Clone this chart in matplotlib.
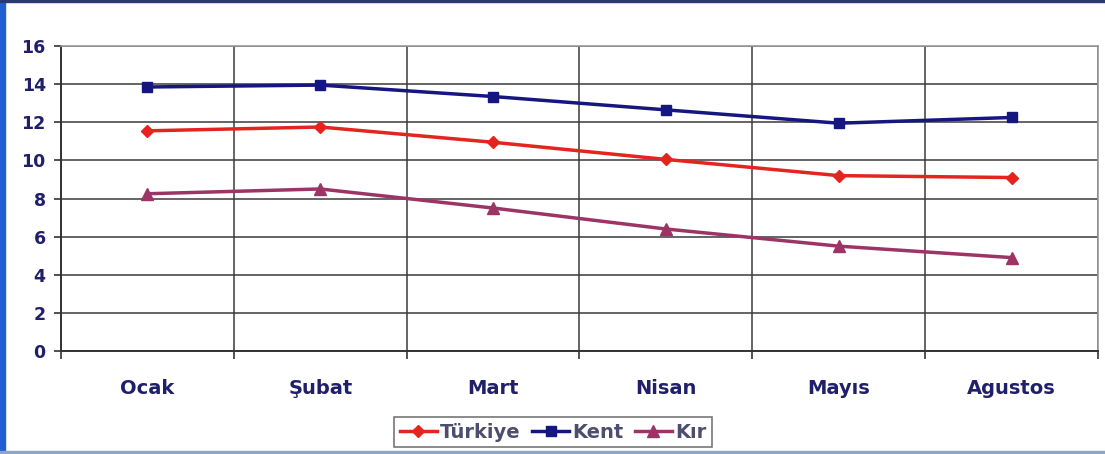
import matplotlib
matplotlib.use("Agg")
import matplotlib.pyplot as plt
from matplotlib.patches import Rectangle

months = ["Ocak", "Şubat", "Mart", "Nisan", "Mayıs", "Agustos"]
turkiye = [11.55, 11.75, 10.95, 10.05, 9.2, 9.1]
kent = [13.85, 13.95, 13.35, 12.65, 11.95, 12.25]
kir = [8.25, 8.5, 7.5, 6.4, 5.5, 4.9]
yticks = [0, 2, 4, 6, 8, 10, 12, 14, 16]

plt.rcParams['font.family'] = ['DejaVu Sans']

fig = plt.figure(figsize=(11.05, 4.54), dpi=100)
fig.patch.set_facecolor('white')
ax = fig.add_axes([61/1105, 1-351/454, (1098-61)/1105, (351-46)/454])

x = list(range(len(months)))
ax.plot(x, turkiye, color='#e3241f', lw=2.5, marker='D', ms=6, label='Türkiye', zorder=4)
ax.plot(x, kent, color='#161680', lw=2.5, marker='s', ms=7, label='Kent', zorder=4)
ax.plot(x, kir, color='#9c3466', lw=2.5, marker='^', ms=8, label='Kır', zorder=4)

ax.set_xlim(-0.5, 5.5)
ax.set_ylim(0, 16)
ax.set_yticks(yticks)
ax.set_xticks(x)
ax.set_xticklabels(months)
ax.set_xticks([i - 0.5 for i in range(len(months) + 1)], minor=True)
ax.tick_params(axis='x', which='major', length=0, pad=20, labelsize=14, labelcolor='#1f1f6a')
ax.tick_params(axis='x', which='minor', length=6, width=1.2, color='#333333', direction='out')
ax.tick_params(axis='y', length=5, width=1.2, color='#333333', labelsize=12.5, labelcolor='#1f1f6a', pad=6)
for lbl in ax.get_xticklabels() + ax.get_yticklabels():
    lbl.set_fontweight('bold')

ax.grid(True, axis='y', which='major', color='#3a3a3a', lw=1.1)
ax.grid(True, axis='x', which='minor', color='#3a3a3a', lw=1.1)
ax.set_axisbelow(True)
for side in ['left', 'bottom']:
    ax.spines[side].set_color('#333333')
    ax.spines[side].set_linewidth(1.4)
for side in ['top', 'right']:
    ax.spines[side].set_color('#9a9a9a')
    ax.spines[side].set_linewidth(1.2)

leg = fig.legend(loc='center', bbox_to_anchor=(553/1105, 1-432/454), ncol=3,
                 frameon=True, fancybox=False, edgecolor='#555555',
                 prop={'weight': 'bold', 'size': 14}, handlelength=1.9,
                 handletextpad=0.15, columnspacing=0.6, borderpad=0.3)
leg.get_frame().set_linewidth(1.2)
for t in leg.get_texts():
    t.set_color('#4d4d6e')

# window borders
fig.patches.append(Rectangle((0, 0), 5/1105, 1, transform=fig.transFigure, color='#1f5fd0', zorder=10))
fig.patches.append(Rectangle((0, 1-2/454), 1, 2/454, transform=fig.transFigure, color='#2a3a70', zorder=10))
fig.patches.append(Rectangle((0, 0), 1, 3/454, transform=fig.transFigure, color='#8fa4c8', zorder=10))

fig.savefig('out.png', dpi=100)
